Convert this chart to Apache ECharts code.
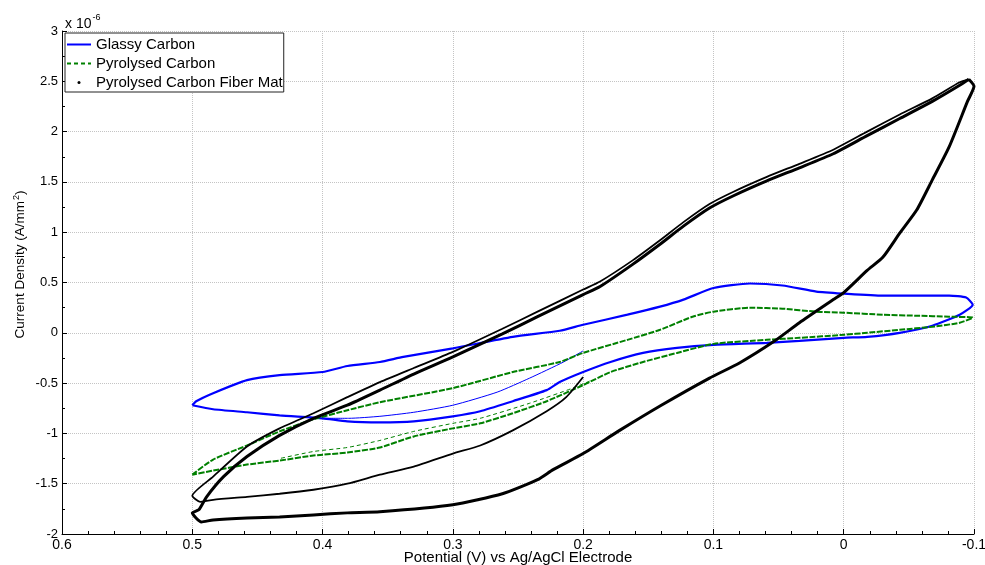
<!DOCTYPE html>
<html>
<head>
<meta charset="utf-8">
<script src="https://cdn.jsdelivr.net/npm/echarts@6/dist/echarts.min.js"></script>
<style>
html, body { margin: 0; padding: 0; background: #fff; }
#chart { width: 985px; height: 565px; }
</style>
</head>
<body>
<div id="chart"></div>
<script>
// values, current density in units of 1e-6 A/mm^2
var xTicks = [-0.1, 0, 0.1, 0.2, 0.3, 0.4, 0.5, 0.6]
var xTickLabels = ['-0.1', '0', '0.1', '0.2', '0.3', '0.4', '0.5', '0.6']
var yTicks = [-2, -1.5, -1, -0.5, 0, 0.5, 1, 1.5, 2, 2.5, 3]
var yTickLabels = ['-2', '-1.5', '-1', '-0.5', '0', '0.5', '1', '1.5', '2', '2.5', '3']

var names = ['Glassy Carbon', 'Pyrolysed Carbon', 'Pyrolysed Carbon Fiber Mat']

// glassy carbon: first sweep from 0.2 V, then the steady loop
var glassyFirst = [
    [0.2, -0.18], [0.215, -0.29], [0.241, -0.45], [0.266, -0.59], [0.30, -0.72],
    [0.33, -0.79], [0.356, -0.83], [0.38, -0.85], [0.40, -0.85]
]
var glassyLoop = [
    [0.5, -0.72], [0.497, -0.68], [0.484, -0.60], [0.458, -0.47], [0.433, -0.42],
    [0.40, -0.39], [0.381, -0.33], [0.356, -0.29], [0.338, -0.24], [0.30, -0.155],
    [0.254, -0.04], [0.218, 0.02], [0.2, 0.08], [0.166, 0.18], [0.141, 0.26],
    [0.123, 0.33], [0.10, 0.445], [0.072, 0.49], [0.047, 0.47], [0.021, 0.41],
    [0, 0.39], [-0.03, 0.37], [-0.056, 0.37], [-0.081, 0.37], [-0.094, 0.35],
    [-0.099, 0.28], [-0.089, 0.18], [-0.068, 0.07], [-0.043, 0.0], [-0.018, -0.04],
    [0, -0.05], [0.034, -0.08], [0.059, -0.10], [0.10, -0.12], [0.128, -0.15],
    [0.154, -0.20], [0.179, -0.29], [0.2, -0.39], [0.218, -0.49], [0.228, -0.57],
    [0.254, -0.68], [0.279, -0.78], [0.30, -0.83], [0.33, -0.88], [0.356, -0.89],
    [0.381, -0.88], [0.40, -0.85], [0.433, -0.82], [0.458, -0.79], [0.484, -0.76],
    [0.5, -0.72]
]

// pyrolysed carbon
var pyroFirst = [
    [0.195, -0.48], [0.208, -0.55], [0.241, -0.70], [0.279, -0.85], [0.30, -0.90],
    [0.33, -0.98], [0.356, -1.07], [0.381, -1.14], [0.407, -1.18], [0.433, -1.25]
]
var pyroLoop = [
    [0.5, -1.41], [0.484, -1.26], [0.458, -1.12], [0.433, -0.98], [0.407, -0.86],
    [0.381, -0.77], [0.356, -0.69], [0.30, -0.55], [0.254, -0.39], [0.218, -0.29],
    [0.2, -0.20], [0.166, -0.07], [0.141, 0.03], [0.116, 0.16], [0.10, 0.21],
    [0.072, 0.25], [0.047, 0.24], [0.021, 0.21], [0, 0.20], [-0.03, 0.18],
    [-0.056, 0.17], [-0.081, 0.16], [-0.099, 0.15], [-0.089, 0.10], [-0.068, 0.06],
    [-0.043, 0.03], [-0.018, 0.0], [0, -0.02], [0.034, -0.05], [0.059, -0.07],
    [0.10, -0.11], [0.128, -0.20], [0.154, -0.29], [0.179, -0.39], [0.2, -0.52],
    [0.228, -0.68], [0.254, -0.80], [0.279, -0.90], [0.30, -0.95], [0.33, -1.03],
    [0.356, -1.14], [0.381, -1.19], [0.407, -1.22], [0.433, -1.27], [0.458, -1.31],
    [0.484, -1.37], [0.5, -1.41]
]

// pyrolysed carbon fiber mat
var fiberFirst = [
    [0.2, -0.44], [0.213, -0.64], [0.228, -0.78], [0.254, -0.97], [0.279, -1.12],
    [0.30, -1.20], [0.33, -1.33], [0.356, -1.41], [0.381, -1.50], [0.407, -1.56],
    [0.433, -1.60], [0.458, -1.63], [0.484, -1.66], [0.494, -1.68], [0.5, -1.62],
    [0.484, -1.43], [0.458, -1.13], [0.433, -0.95], [0.407, -0.80], [0.381, -0.64],
    [0.356, -0.49], [0.33, -0.35], [0.30, -0.19], [0.262, 0.04], [0.235, 0.21],
    [0.2, 0.43], [0.187, 0.51], [0.162, 0.72], [0.141, 0.92], [0.123, 1.10],
    [0.103, 1.28], [0.085, 1.40], [0.059, 1.55], [0.034, 1.68], [0.008, 1.82],
    [-0.018, 2.0], [-0.043, 2.17], [-0.068, 2.33], [-0.089, 2.49], [-0.096, 2.52]
]
var fiberLoop = [
    [-0.096, 2.52], [-0.1, 2.45], [-0.095, 2.30], [-0.081, 1.85], [-0.068, 1.52],
    [-0.056, 1.22], [-0.043, 0.99], [-0.03, 0.75], [-0.018, 0.62], [0, 0.40],
    [0.008, 0.33], [0.034, 0.10], [0.054, -0.09], [0.08, -0.30], [0.103, -0.45],
    [0.14, -0.72], [0.172, -0.97], [0.2, -1.20], [0.223, -1.36], [0.235, -1.46],
    [0.262, -1.60], [0.30, -1.71], [0.356, -1.78], [0.381, -1.79], [0.407, -1.81],
    [0.433, -1.83], [0.458, -1.84], [0.484, -1.86], [0.493, -1.88], [0.5, -1.79],
    [0.495, -1.76], [0.489, -1.63], [0.476, -1.43], [0.458, -1.23], [0.433, -1.02],
    [0.407, -0.85], [0.381, -0.72], [0.356, -0.57], [0.33, -0.41], [0.30, -0.24],
    [0.262, -0.01], [0.235, 0.16], [0.2, 0.38], [0.187, 0.46], [0.162, 0.68],
    [0.141, 0.88], [0.123, 1.06], [0.103, 1.24], [0.085, 1.36], [0.059, 1.51],
    [0.034, 1.64], [0.008, 1.78], [-0.018, 1.96], [-0.043, 2.13], [-0.068, 2.30],
    [-0.089, 2.46], [-0.096, 2.52]
]

var font = 'Liberation Sans, Arial, Helvetica, sans-serif'

function tickLabel (ticks, labels) {
    return function (v) {
        for (var i = 0; i < ticks.length; i++) {
            if (Math.abs(ticks[i] - v) < 1e-9) return labels[i]
        }
        return ''
    }
}

function lineSeries (name, data, color, width, type) {
    return {
        name: name,
        type: 'line',
        data: data,
        symbol: 'none',
        smooth: 0.2,
        silent: true,
        lineStyle: { color: color, width: width, type: type || 'solid' },
        itemStyle: { color: color }
    }
}

var chart = echarts.init(document.getElementById('chart'))
var option = {
    animation: false,
    backgroundColor: '#fff',
    title: {
        text: '{a|x 10}{b|-6}',
        left: 60,
        top: 6,
        textStyle: {
            rich: {
                a: { fontFamily: font, fontSize: 14, fontWeight: 'normal', color: '#000', padding: [6, 0, 0, 0] },
                b: { fontFamily: font, fontSize: 9, fontWeight: 'normal', color: '#000', padding: [0, 0, 6, 1] }
            }
        }
    },
    grid: { left: 62, right: 11, top: 31, bottom: 31, outerBoundsMode: 'none' },
    legend: {
        orient: 'vertical',
        left: 65,
        top: 33,
        padding: [4, 1, 2, 1],
        itemGap: 4,
        itemWidth: 24,
        itemHeight: 3,
        backgroundColor: '#fff',
        borderColor: '#222',
        borderWidth: 1,
        borderRadius: 0,
        selectedMode: false,
        textStyle: { fontFamily: font, fontSize: 15, color: '#000', lineHeight: 15 },
        data: [
            { name: names[0], itemStyle: { opacity: 0 } },
            { name: names[1], itemStyle: { opacity: 0 } },
            { name: names[2], icon: 'circle' }
        ]
    },
    xAxis: {
        type: 'value',
        inverse: true,
        min: -0.1,
        max: 0.6,
        interval: 0.1,
        name: 'Potential (V) vs Ag/AgCl Electrode',
        nameLocation: 'middle',
        nameGap: 16,
        nameMoveOverlap: false,
        nameTextStyle: { fontFamily: font, fontSize: 15, color: '#000' },
        axisLine: { onZero: false, lineStyle: { color: '#000', width: 1 } },
        axisTick: { inside: true, length: 5, lineStyle: { color: '#000' } },
        minorTick: { show: true, splitNumber: 5, length: 3, lineStyle: { color: '#000' } },
        splitLine: { show: true, lineStyle: { color: '#c4c4c4', type: 'dotted', width: 1 } },
        axisLabel: { fontFamily: font, fontSize: 14, color: '#000', margin: 4, formatter: tickLabel(xTicks, xTickLabels) }
    },
    yAxis: {
        type: 'value',
        min: -2,
        max: 3,
        interval: 0.5,
        name: 'Current Density (A/mm{sup|2})',
        nameLocation: 'middle',
        nameGap: 33,
        nameMoveOverlap: false,
        nameTextStyle: {
            fontFamily: font, fontSize: 13.5, color: '#000',
            padding: [0, 0, 0, 36],
            rich: { sup: { fontFamily: font, fontSize: 9, color: '#000', padding: [0, 0, 8, 1] } }
        },
        axisLine: { onZero: false, lineStyle: { color: '#000', width: 1 } },
        axisTick: { inside: true, length: 5, lineStyle: { color: '#000' } },
        minorTick: { show: true, splitNumber: 2, length: 3, lineStyle: { color: '#000' } },
        splitLine: { show: true, lineStyle: { color: '#c4c4c4', type: 'dotted', width: 1 } },
        axisLabel: { fontFamily: font, fontSize: 13, color: '#000', margin: 4, formatter: tickLabel(yTicks, yTickLabels) }
    },
    series: [
        lineSeries(names[0], glassyFirst, '#0000ff', 1),
        lineSeries(names[0], glassyLoop, '#0000ff', 2.2),
        lineSeries(names[1], pyroFirst, '#008000', 1, [4, 3]),
        lineSeries(names[1], pyroLoop, '#008000', 2, [6, 1.5]),
        lineSeries(names[2], fiberFirst, '#000000', 1.8),
        lineSeries(names[2], fiberLoop, '#000000', 3)
    ]
}
chart.setOption(option)
</script>
</body>
</html>
